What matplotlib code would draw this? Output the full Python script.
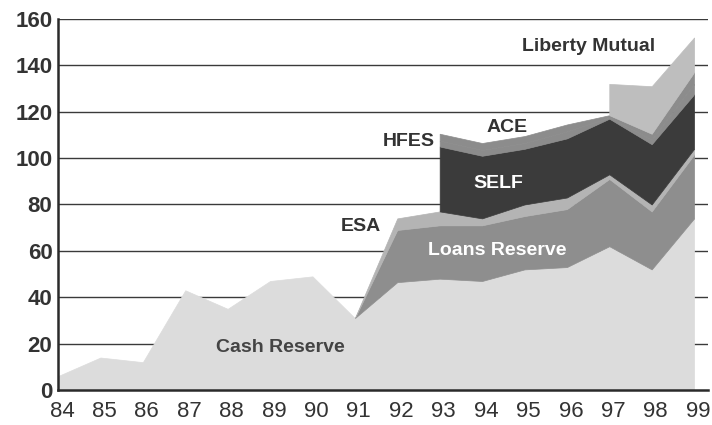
import numpy as np
import matplotlib
matplotlib.use("Agg")
import matplotlib.pyplot as plt
import matplotlib.transforms as mtransforms

plt.rcParams['font.family'] = ['Liberation Sans Narrow', 'Liberation Sans', 'DejaVu Sans']

years = np.arange(84, 100)
nan = np.nan

# layer thicknesses, bottom to top (nan = layer not present yet)
cash_reserve = [6, 14, 12, 43, 35, 47, 49, 31, 46.5, 48, 47, 52, 53, 62, 52, 74]
loans_reserve = [nan]*7 + [0, 22.5, 23, 24, 23, 25, 29, 25, 27.5]
esa = [nan]*7 + [0, 5, 6, 3, 5, 5, 2, 3, 2.5]
self_ = [nan]*9 + [28, 27, 24, 25.5, 24, 26, 23.5]
hfes = [nan]*9 + [2.5, 2.5, 2.5, 3, 0.5, 2, 4.5]
ace = [nan]*9 + [3, 3, 3, 3, 1, 2.5, 5]
liberty = [nan]*13 + [13.5, 20.5, 15]

layers = [cash_reserve, loans_reserve, esa, self_, hfes, ace, liberty]
colors = ['#dcdcdc', '#8e8e8e', '#b4b4b4', '#3b3b3b', '#8c8c8c', '#8c8c8c', '#bebebe']

fig = plt.figure(figsize=(7.12, 4.25), dpi=100)
ax = fig.add_axes([0.0815, 0.0824, 0.913, 0.873])

base = np.zeros(len(years))
for vals, c in zip(layers, colors):
    v = np.array(vals, dtype=float)
    top = base + v
    ax.fill_between(years, base, top, facecolor=c, edgecolor=c, lw=0.5, zorder=2)
    base = np.where(np.isnan(top), base, top)

for y in range(20, 161, 20):
    ax.axhline(y, color='#3a3a3a', lw=1.0, zorder=1)

ax.set_xlim(84, 99.33)
ax.set_ylim(0, 160)
ax.set_xticks(years)
ax.set_xticklabels([str(y) for y in years])
ax.set_yticks(range(0, 161, 20))
for s in ['top', 'right']:
    ax.spines[s].set_visible(False)
for s in ['left', 'bottom']:
    ax.spines[s].set_linewidth(1.8)
    ax.spines[s].set_color('#2a2a2a')
    ax.spines[s].set_zorder(3)
ax.tick_params(axis='both', length=0, colors='#333333')
ax.tick_params(axis='y', pad=4, labelsize=16)
ax.tick_params(axis='x', pad=8, labelsize=16)
for t in ax.get_yticklabels():
    t.set_fontweight('bold')
shift = mtransforms.ScaledTranslation(4/100, 0, fig.dpi_scale_trans)
for t in ax.get_xticklabels():
    t.set_transform(t.get_transform() + shift)

lab = dict(fontsize=14, fontweight='bold', ha='center', va='center', zorder=5)
ax.text(89.24, 18.5, 'Cash Reserve', color='#444444', **lab)
ax.text(94.35, 60.3, 'Loans Reserve', color='white', **lab)
ax.text(91.15, 70.7, 'ESA', color='#333333', **lab)
ax.text(94.38, 89, 'SELF', color='white', **lab)
ax.text(92.28, 107, 'HFES', color='#333333', **lab)
ax.text(94.6, 113, 'ACE', color='#333333', **lab)
ax.text(96.5, 148, 'Liberty Mutual', color='#333333', **lab)

fig.savefig('out.png', dpi=100)
